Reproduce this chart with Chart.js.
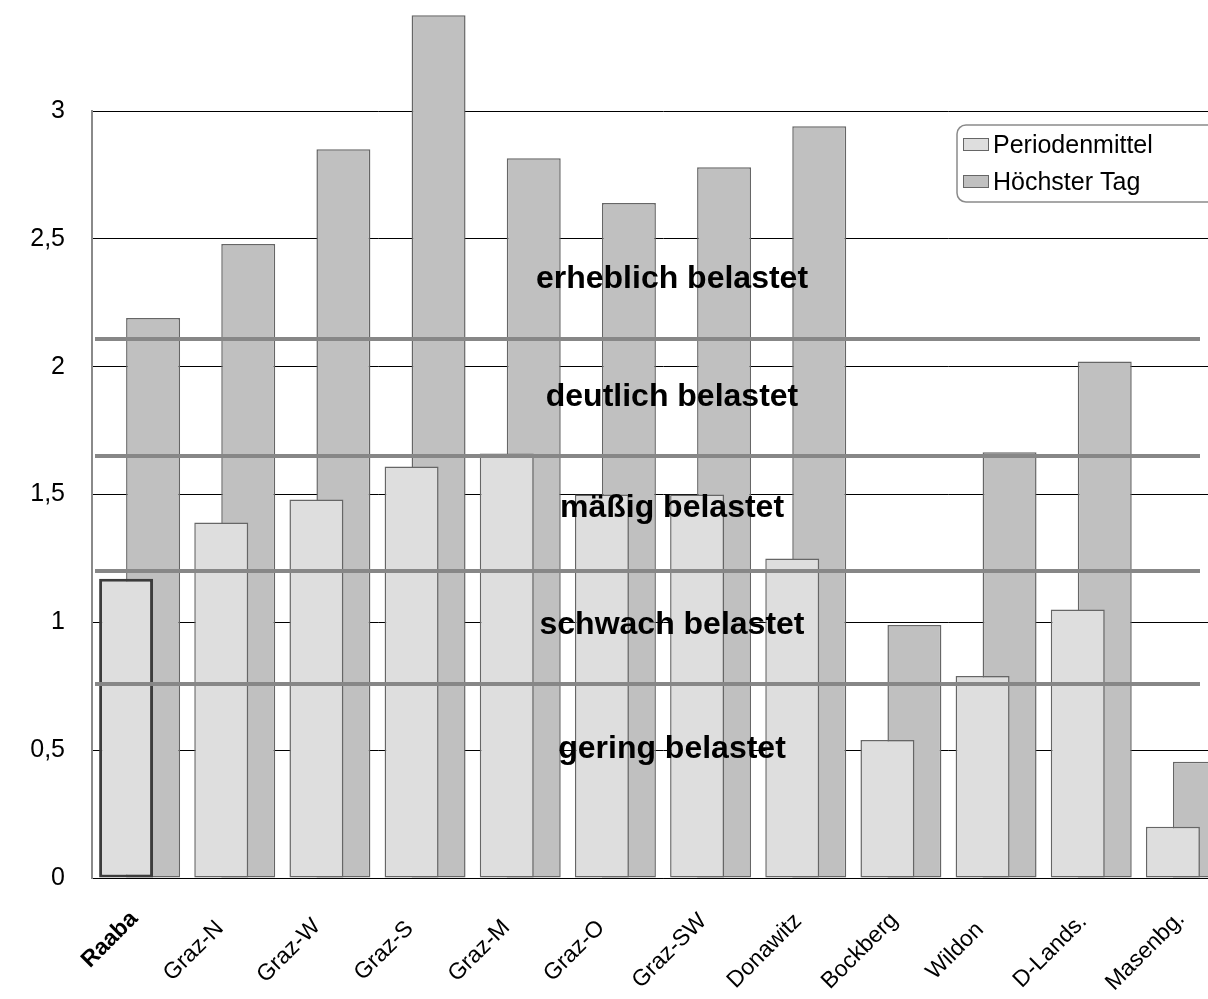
<!DOCTYPE html>
<html lang="de">
<head>
<meta charset="utf-8">
<title>Belastung – Periodenmittel und höchster Tag</title>
<script src="https://cdn.jsdelivr.net/npm/chart.js@4.4.1/dist/chart.umd.min.js"></script>
<style>
  html, body { margin: 0; padding: 0; overflow: hidden; background: #fff; }
  #wrap { position: absolute; left: 0; top: 0; width: 1240px; height: 999px; }
</style>
</head>
<body>
<div id="wrap"><canvas id="chart"></canvas></div>
<script>
// Messstellen
const stations = ['Raaba', 'Graz-N', 'Graz-W', 'Graz-S', 'Graz-M', 'Graz-O',
                  'Graz-SW', 'Donawitz', 'Bockberg', 'Wildon', 'D-Lands.', 'Masenbg.'];
// Mittelwert über die Periode
const periodMean = [1.17, 1.39, 1.48, 1.61, 1.66, 1.50, 1.50, 1.25, 0.54, 0.79, 1.05, 0.20];
// Höchster Tageswert
const maxDay = [2.19, 2.48, 2.85, 3.375, 2.815, 2.64, 2.78, 2.94, 0.99, 1.665, 2.02, 0.455];
// Beschriftung der y-Achse
const yTickLabels = ['0', '0,5', '1', '1,5', '2', '2,5', '3'];
// Klassengrenzen der Belastungsstufen
const classLimits = [0.76, 1.2, 1.65, 2.11];
// Namen der Belastungsstufen und ihre Höhe auf der Werteachse
const classNames = ['gering belastet', 'schwach belastet', 'mäßig belastet', 'deutlich belastet', 'erheblich belastet'];
const classLabelValues = [0.505, 0.99, 1.447, 1.881, 2.343];

const FONT = "'Liberation Sans', Arial, sans-serif";
Chart.defaults.color = '#000';
Chart.defaults.font.family = FONT;

// Grenzlinien und Stufennamen über den Balken
const classPlugin = {
  id: 'classes',
  afterDatasetsDraw(chart) {
    const { ctx, chartArea, scales } = chart;
    const y = scales.y;
    ctx.save();
    ctx.strokeStyle = '#878787';
    ctx.lineWidth = 4;
    classLimits.forEach(v => {
      const py = Math.round(y.getPixelForValue(v));
      ctx.beginPath();
      ctx.moveTo(chartArea.left + 3, py);
      ctx.lineTo(1200, py);
      ctx.stroke();
    });
    ctx.fillStyle = '#000';
    ctx.font = 'bold 32px ' + FONT;
    ctx.textAlign = 'center';
    ctx.textBaseline = 'middle';
    const cx = 672;
    classNames.forEach((name, i) => {
      ctx.fillText(name, cx, y.getPixelForValue(classLabelValues[i]));
    });
    ctx.restore();
  }
};

// Schräg gestellte Stationsnamen, um ihre Mitte gedreht
const stationLabelPlugin = {
  id: 'stationLabels',
  afterDraw(chart) {
    const { ctx, scales } = chart;
    const x = scales.x;
    ctx.save();
    ctx.fillStyle = '#000';
    ctx.textAlign = 'center';
    ctx.textBaseline = 'middle';
    chart.data.labels.forEach((name, i) => {
      const px = x.getPixelForTick(i) - 41;
      const py = scales.y.bottom + 73;
      const bold = i === 0;
      ctx.save();
      ctx.translate(px, py);
      ctx.rotate(-Math.PI / 4);
      ctx.font = (bold ? 'bold ' : '') + '23px ' + FONT;
      // hervorgehobene Station sitzt etwas näher an ihrer Säule
      ctx.fillText(name, bold ? 16 : 0, 0);
      ctx.restore();
    });
    ctx.restore();
  }
};

// Legende im Diagrammfeld mit abgerundetem Rahmen
const legendBoxPlugin = {
  id: 'legendBox',
  afterDraw(chart) {
    const { ctx } = chart;
    const x0 = 957, y0 = 125, w = 270, h = 77, r = 9;
    ctx.save();
    ctx.fillStyle = '#fff';
    ctx.strokeStyle = '#8a8a8a';
    ctx.lineWidth = 1.5;
    ctx.beginPath();
    ctx.roundRect(x0, y0, w, h, r);
    ctx.fill();
    ctx.stroke();
    ctx.font = '25px ' + FONT;
    ctx.textAlign = 'left';
    ctx.textBaseline = 'middle';
    const rows = [145, 182];
    chart.data.datasets.forEach((ds, i) => {
      const cy = rows[i];
      ctx.fillStyle = ds.backgroundColor;
      ctx.fillRect(963, cy - 7, 26, 13);
      ctx.strokeStyle = '#666';
      ctx.lineWidth = 1;
      ctx.strokeRect(963.5, cy - 6.5, 25, 12);
      ctx.fillStyle = '#000';
      ctx.fillText(ds.label, 993, cy + 1);
    });
    ctx.restore();
  }
};

new Chart(document.getElementById('chart'), {
  type: 'bar',
  data: {
    labels: stations,
    datasets: [
      {
        label: 'Periodenmittel',
        data: periodMean,
        backgroundColor: '#dedede',
        borderColor: c => c.dataIndex === 0 ? '#3c3c3c' : '#666',
        borderWidth: c => c.dataIndex === 0 ? 3 : 1.5,
        borderSkipped: false,
        categoryPercentage: 0.567,
        barPercentage: 2,
        clip: false
      },
      {
        label: 'Höchster Tag',
        data: maxDay,
        backgroundColor: '#c0c0c0',
        borderColor: '#666',
        borderWidth: 1.5,
        borderSkipped: false,
        categoryPercentage: 0.567,
        barPercentage: 2,
        clip: false
      }
    ]
  },
  options: {
    responsive: true,
    maintainAspectRatio: false,
    animation: false,
    layout: { padding: { top: 111, right: 6, left: 0, bottom: 0 } },
    plugins: {
      legend: { display: false },
      tooltip: { enabled: false }
    },
    scales: {
      x: {
        grid: { display: false, drawTicks: false },
        border: { display: true, color: '#000', width: 1 },
        ticks: { display: false, autoSkip: false },
        afterFit(scale) { scale.height = 121; }
      },
      y: {
        min: 0,
        max: 3,
        grid: { color: '#000', lineWidth: 1, drawTicks: false },
        border: { display: true, color: '#8a8a8a', width: 2 },
        ticks: {
          stepSize: 0.5,
          includeBounds: false,
          padding: 27,
          font: { family: FONT, size: 25 },
          callback: (v, i) => yTickLabels[i]
        },
        afterFit(scale) { scale.width = 92; }
      }
    }
  },
  plugins: [classPlugin, stationLabelPlugin, legendBoxPlugin]
});
</script>
</body>
</html>
